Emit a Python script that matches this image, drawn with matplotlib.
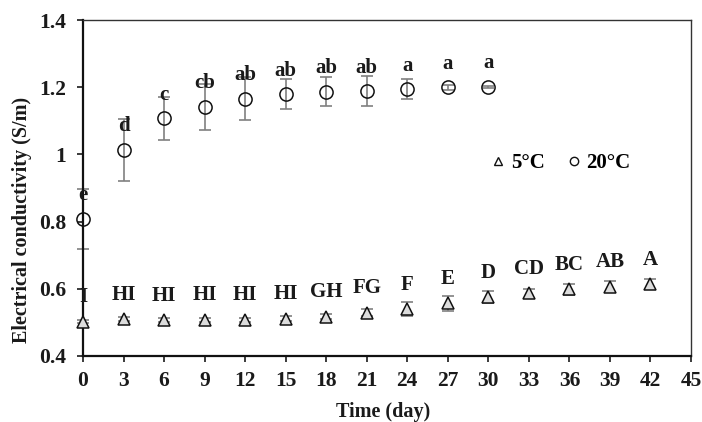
import matplotlib
matplotlib.use("Agg")
import matplotlib.pyplot as plt
from matplotlib.lines import Line2D

# DATA
# ///////////////////////////////////////////////////////////////
days_20 = [0, 3, 6, 9, 12, 15, 18, 21, 24, 27, 30]
ec_20 = [0.808, 1.013, 1.107, 1.142, 1.166, 1.179, 1.186, 1.188, 1.194, 1.200, 1.201]
err_20 = [0.090, 0.092, 0.064, 0.069, 0.063, 0.045, 0.043, 0.045, 0.030, 0.007, 0.003]
letters_20 = ['e', 'd', 'c', 'cb', 'ab', 'ab', 'ab', 'ab', 'a', 'a', 'a']

days_5 = [0, 3, 6, 9, 12, 15, 18, 21, 24, 27, 30, 33, 36, 39, 42]
ec_5 = [0.502, 0.509, 0.506, 0.508, 0.508, 0.511, 0.517, 0.529, 0.540,
        0.557, 0.575, 0.587, 0.598, 0.606, 0.614]
err_5 = [0.005, 0.006, 0.006, 0.006, 0.006, 0.007, 0.008, 0.010, 0.022,
         0.023, 0.018, 0.013, 0.016, 0.016, 0.015]
letters_5 = ['I', 'HI', 'HI', 'HI', 'HI', 'HI', 'GH', 'FG', 'F', 'E',
             'D', 'CD', 'BC', 'AB', 'A']

xticks = list(range(0, 46, 3))
yticks = [0.4, 0.6, 0.8, 1.0, 1.2, 1.4]
ytick_labels = ['0.4', '0.6', '0.8', '1', '1.2', '1.4']

# STYLE
# ///////////////////////////////////////////////////////////////
plt.rcParams['font.family'] = ['Liberation Serif', 'DejaVu Serif']
plt.rcParams['font.weight'] = 'bold'
plt.rcParams['font.size'] = 14

fig = plt.figure(figsize=(7.02, 4.22), dpi=100)
ax = fig.add_axes([0.1182, 0.1564, 0.8661, 0.7962])

err_color = '#808080'

# 5 C series
ax.errorbar(days_5, ec_5, yerr=err_5, fmt='none', ecolor=err_color,
            elinewidth=1.2, capsize=4, capthick=1.2, clip_on=False, zorder=2)
ax.plot(days_5, ec_5, linestyle='none', marker='^', markersize=8,
        markerfacecolor='#dcdcdc', markeredgecolor='#111111',
        markeredgewidth=1.1, clip_on=False, zorder=3)

# 20 C series
ax.errorbar(days_20, ec_20, yerr=err_20, fmt='none', ecolor=err_color,
            elinewidth=1.2, capsize=4, capthick=1.2, clip_on=False, zorder=2)
ax.plot(days_20, ec_20, linestyle='none', marker='o', markersize=9.5,
        markerfacecolor='none', markeredgecolor='#111111',
        markeredgewidth=1.1, clip_on=False, zorder=3)

# significance letters
for x, y, s in zip(days_20, ec_20, letters_20):
    ax.annotate(s, (x, y), xytext=(0, 17), textcoords='offset points',
                ha='center', va='center', fontsize=15, fontweight='bold',
                color='#1a1a1a', zorder=4)
for x, y, s in zip(days_5, ec_5, letters_5):
    ax.annotate(s, (x, y), xytext=(0, 17.5), textcoords='offset points',
                ha='center', va='center', fontsize=15, fontweight='bold',
                color='#1a1a1a', zorder=4)

# AXES
# ///////////////////////////////////////////////////////////////
ax.set_xlim(0, 45)
ax.set_ylim(0.4, 1.4)
ax.set_xticks(xticks)
ax.set_yticks(yticks)
ax.set_yticklabels(ytick_labels)
ax.tick_params(direction='out', length=4, width=1.2, colors='#1a1a1a',
               labelsize=15.5)
ax.tick_params(axis='x', pad=7)
ax.tick_params(axis='y', pad=8)

for side in ['left', 'bottom']:
    ax.spines[side].set_linewidth(1.6)
    ax.spines[side].set_color('#111111')
for side in ['top', 'right']:
    ax.spines[side].set_linewidth(1.0)
    ax.spines[side].set_color('#333333')

ax.set_xlabel('Time (day)', fontsize=14.5, fontweight='bold', color='#1a1a1a')
ax.set_ylabel('Electrical conductivity (S/m)', fontsize=14.5,
              fontweight='bold', color='#1a1a1a')
ax.xaxis.set_label_coords(0.493, -0.167)
ax.yaxis.set_label_coords(-0.100, 0.405)
ax.xaxis.label.set_verticalalignment('center')
ax.yaxis.label.set_verticalalignment('center')

# LEGEND
# ///////////////////////////////////////////////////////////////
handles = [
    Line2D([], [], linestyle='none', marker='^', markersize=6,
           markerfacecolor='none', markeredgecolor='#111111', markeredgewidth=1.0),
    Line2D([], [], linestyle='none', marker='o', markersize=6,
           markerfacecolor='none', markeredgecolor='#111111', markeredgewidth=1.0),
]
ax.legend(handles, ['5\u00b0C', '20\u00b0C'], loc='center',
          bbox_to_anchor=(0.785, 0.574), ncol=2, frameon=False,
          handlelength=0.8, handletextpad=0.2, columnspacing=1.0,
          prop={'size': 15, 'weight': 'bold'})

fig.savefig('out.png', dpi=100)
